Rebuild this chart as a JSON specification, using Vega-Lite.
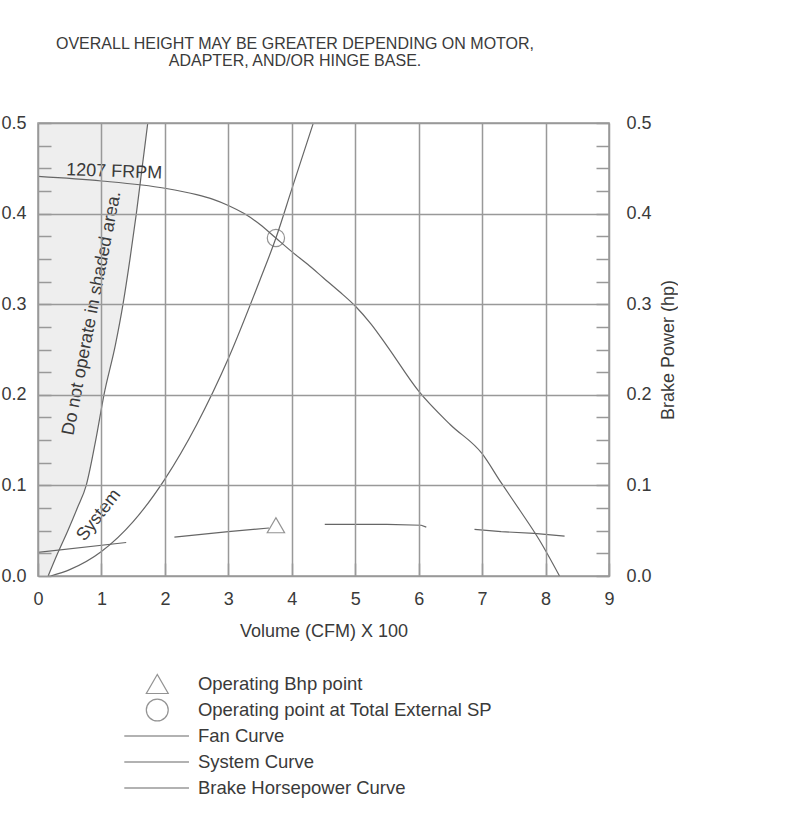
{
  "$schema": "https://vega.github.io/schema/vega-lite/v6.json",
  "padding": {"left": 0, "top": 36, "right": 0, "bottom": 0},
  "background": "white",
  "title": {
    "text": ["OVERALL HEIGHT MAY BE GREATER DEPENDING ON MOTOR,", "ADAPTER, AND/OR HINGE BASE."],
    "font": "Liberation Sans", "fontSize": 16, "fontWeight": "normal", "color": "#3a3a3a",
    "lineHeight": 17, "anchor": "middle", "offset": 44, "dx": -44
  },
  "config": {
    "view": {"stroke": "#999", "strokeWidth": 1.5},
    "font": "Liberation Sans",
    "axis": {
      "labelFont": "Liberation Sans", "titleFont": "Liberation Sans",
      "labelFontSize": 18, "titleFontSize": 18, "labelColor": "#3a3a3a", "titleColor": "#3a3a3a",
      "titleFontWeight": "normal", "labelFlush": false, "labelOverlap": false,
      "domain": false, "tickColor": "#999", "tickWidth": 1.5, "gridColor": "#999", "gridWidth": 1.5
    }
  },
  "spacing": 30,
  "vconcat": [
    {
      "width": 571,
      "height": 453,
      "resolve": {"axis": {"y": "independent"}},
      "layer": [
        {
          "data": {"values": [
            {"x": 0.16, "y": 0.0}, {"x": 0.31, "y": 0.025}, {"x": 0.47, "y": 0.05}, {"x": 0.62, "y": 0.075},
            {"x": 0.76, "y": 0.1}, {"x": 0.91, "y": 0.15}, {"x": 1.04, "y": 0.2}, {"x": 1.22, "y": 0.255},
            {"x": 1.34, "y": 0.3}, {"x": 1.45, "y": 0.35}, {"x": 1.55, "y": 0.4}, {"x": 1.64, "y": 0.45}, {"x": 1.73, "y": 0.5}
          ]},
          "mark": {"type": "area", "orient": "horizontal", "color": "#ececec", "opacity": 0.9, "interpolate": "monotone"},
          "encoding": {
            "y": {"field": "y", "type": "quantitative", "scale": {"domain": [0, 0.5]},
              "axis": {
                "orient": "left", "title": null,
                "values": [0, 0.025, 0.05, 0.075, 0.1, 0.125, 0.15, 0.175, 0.2, 0.225, 0.25, 0.275, 0.3, 0.325, 0.35, 0.375, 0.4, 0.425, 0.45, 0.475, 0.5],
                "labelExpr": "round(datum.value*1000) % 100 == 0 ? format(datum.value, '.1f') : ''",
                "grid": true,
                "gridOpacity": {"condition": {"test": "round(datum.value*1000) % 100 == 0", "value": 1}, "value": 0},
                "tickSize": -13, "labelPadding": 25, "zindex": 1
              }
            },
            "x": {"field": "x", "type": "quantitative", "stack": null, "scale": {"domain": [0, 9]},
              "axis": {
                "orient": "bottom", "title": "Volume (CFM) X 100",
                "values": [0, 0.25, 0.5, 0.75, 1, 1.25, 1.5, 1.75, 2, 2.25, 2.5, 2.75, 3, 3.25, 3.5, 3.75, 4, 4.25, 4.5, 4.75, 5, 5.25, 5.5, 5.75, 6, 6.25, 6.5, 6.75, 7, 7.25, 7.5, 7.75, 8, 8.25, 8.5, 8.75, 9],
                "labelExpr": "datum.value % 1 == 0 ? format(datum.value, 'd') : ''",
                "grid": true,
                "gridOpacity": {"condition": {"test": "datum.value % 1 == 0", "value": 1}, "value": 0},
                "tickSize": -13, "labelPadding": 27, "titlePadding": 14, "zindex": 1
              }
            }
          }
        },
        {
          "data": {"values": [
            {"x": 0.16, "y": 0.0}, {"x": 0.31, "y": 0.025}, {"x": 0.47, "y": 0.05}, {"x": 0.62, "y": 0.075},
            {"x": 0.76, "y": 0.1}, {"x": 0.91, "y": 0.15}, {"x": 1.04, "y": 0.2}, {"x": 1.22, "y": 0.255},
            {"x": 1.34, "y": 0.3}, {"x": 1.45, "y": 0.35}, {"x": 1.55, "y": 0.4}, {"x": 1.64, "y": 0.45}, {"x": 1.73, "y": 0.5}
          ]},
          "mark": {"type": "line", "color": "#666", "strokeWidth": 1.2, "interpolate": "monotone"},
          "encoding": {
            "x": {"field": "x", "type": "quantitative"},
            "y": {"field": "y", "type": "quantitative",
              "axis": {
                "orient": "right", "title": "Brake Power (hp)", "titleAngle": 270, "titleBaseline": "top",
                "values": [0, 0.025, 0.05, 0.075, 0.1, 0.125, 0.15, 0.175, 0.2, 0.225, 0.25, 0.275, 0.3, 0.325, 0.35, 0.375, 0.4, 0.425, 0.45, 0.475, 0.5],
                "labelExpr": "round(datum.value*1000) % 100 == 0 ? format(datum.value, '.1f') : ''",
                "grid": false, "tickSize": -13, "labelPadding": 30, "titlePadding": 8
              }
            }
          }
        },
        {
          "data": {"values": [
            {"x": 0.2, "y": 0.0}, {"x": 0.5, "y": 0.007}, {"x": 1.0, "y": 0.027}, {"x": 1.5, "y": 0.06},
            {"x": 2.0, "y": 0.107}, {"x": 2.5, "y": 0.167}, {"x": 3.0, "y": 0.24}, {"x": 3.5, "y": 0.327},
            {"x": 3.75, "y": 0.373}, {"x": 4.0, "y": 0.427}, {"x": 4.34, "y": 0.5}
          ]},
          "mark": {"type": "line", "color": "#666", "strokeWidth": 1.2, "interpolate": "monotone"},
          "encoding": {
            "x": {"field": "x", "type": "quantitative"},
            "y": {"field": "y", "type": "quantitative", "axis": null}
          }
        },
        {
          "data": {"values": [
            {"x": 0.0, "y": 0.441}, {"x": 1.0, "y": 0.436}, {"x": 2.0, "y": 0.428}, {"x": 2.5, "y": 0.421},
            {"x": 2.75, "y": 0.416}, {"x": 3.0, "y": 0.409}, {"x": 3.25, "y": 0.400}, {"x": 3.5, "y": 0.388},
            {"x": 3.75, "y": 0.373}, {"x": 4.0, "y": 0.358}, {"x": 4.25, "y": 0.344}, {"x": 4.5, "y": 0.329},
            {"x": 4.75, "y": 0.314}, {"x": 5.0, "y": 0.298}, {"x": 5.25, "y": 0.278}, {"x": 5.5, "y": 0.254},
            {"x": 6.0, "y": 0.204}, {"x": 6.5, "y": 0.167}, {"x": 7.0, "y": 0.135},
            {"x": 7.3, "y": 0.103}, {"x": 7.6, "y": 0.072}, {"x": 7.9, "y": 0.040}, {"x": 8.22, "y": 0.0}
          ]},
          "mark": {"type": "line", "color": "#666", "strokeWidth": 1.2, "interpolate": "monotone"},
          "encoding": {
            "x": {"field": "x", "type": "quantitative"},
            "y": {"field": "y", "type": "quantitative", "axis": null}
          }
        },
        {
          "data": {"values": [
            {"seg": "a", "x": 0.0, "y": 0.026}, {"seg": "a", "x": 1.39, "y": 0.037},
            {"seg": "b", "x": 2.15, "y": 0.043}, {"seg": "b", "x": 3.0, "y": 0.049}, {"seg": "b", "x": 3.64, "y": 0.053},
            {"seg": "c", "x": 4.52, "y": 0.057}, {"seg": "c", "x": 5.5, "y": 0.057}, {"seg": "c", "x": 6.04, "y": 0.056}, {"seg": "c", "x": 6.12, "y": 0.054},
            {"seg": "d", "x": 6.88, "y": 0.0515}, {"seg": "d", "x": 7.3, "y": 0.049}, {"seg": "d", "x": 7.82, "y": 0.047}, {"seg": "d", "x": 8.3, "y": 0.044}
          ]},
          "mark": {"type": "line", "color": "#666", "strokeWidth": 1.2},
          "encoding": {
            "x": {"field": "x", "type": "quantitative"},
            "y": {"field": "y", "type": "quantitative", "axis": null},
            "detail": {"field": "seg", "type": "nominal"}
          }
        },
        {
          "data": {"values": [
            {"label": "Operating Bhp point", "x": 3.75, "y": 0.056},
            {"label": "Operating point at Total External SP", "x": 3.75, "y": 0.373}
          ]},
          "mark": {"type": "point", "filled": false, "color": "#666", "strokeWidth": 1.2, "size": 300},
          "encoding": {
            "x": {"field": "x", "type": "quantitative"},
            "y": {"field": "y", "type": "quantitative", "axis": null},
            "shape": {"field": "label", "type": "nominal", "legend": null,
              "scale": {"domain": ["Operating Bhp point", "Operating point at Total External SP"], "range": ["triangle-up", "circle"]}}
          }
        },
        {
          "data": {"values": [{"text": "1207 FRPM", "x": 1.2, "y": 0.446}]},
          "mark": {"type": "text", "fontSize": 18, "color": "#3a3a3a", "angle": 2, "font": "Liberation Sans"},
          "encoding": {
            "x": {"field": "x", "type": "quantitative"},
            "y": {"field": "y", "type": "quantitative", "axis": null},
            "text": {"field": "text"}
          }
        },
        {
          "data": {"values": [{"text": "Do not operate in shaded area.", "x": 0.85, "y": 0.290}]},
          "mark": {"type": "text", "fontSize": 18, "color": "#3a3a3a", "angle": -79, "font": "Liberation Sans"},
          "encoding": {
            "x": {"field": "x", "type": "quantitative"},
            "y": {"field": "y", "type": "quantitative", "axis": null},
            "text": {"field": "text"}
          }
        },
        {
          "data": {"values": [{"text": "System", "x": 0.96, "y": 0.067}]},
          "mark": {"type": "text", "fontSize": 18, "color": "#3a3a3a", "angle": -52, "font": "Liberation Sans"},
          "encoding": {
            "x": {"field": "x", "type": "quantitative"},
            "y": {"field": "y", "type": "quantitative", "axis": null},
            "text": {"field": "text"}
          }
        }
      ]
    },
    {
      "width": 571,
      "height": 130,
      "view": {"stroke": null},
      "data": {"values": [
        {"label": "Operating Bhp point", "kind": "symbol"},
        {"label": "Operating point at Total External SP", "kind": "symbol"},
        {"label": "Fan Curve", "kind": "line"},
        {"label": "System Curve", "kind": "line"},
        {"label": "Brake Horsepower Curve", "kind": "line"}
      ]},
      "encoding": {
        "y": {"field": "label", "type": "nominal", "sort": null, "axis": null, "scale": {"type": "point", "padding": 0.5}}
      },
      "layer": [
        {
          "transform": [{"filter": "datum.kind === 'symbol'"}],
          "mark": {"type": "point", "filled": false, "color": "#666", "strokeWidth": 1.2, "size": 480},
          "encoding": {
            "x": {"datum": 1.88, "type": "quantitative", "scale": {"domain": [0, 9]}, "axis": null},
            "shape": {"field": "label", "type": "nominal", "legend": null}
          }
        },
        {
          "transform": [{"filter": "datum.kind === 'line'"}],
          "mark": {"type": "rule", "color": "#666", "strokeWidth": 1.2},
          "encoding": {
            "x": {"datum": 1.36, "type": "quantitative"},
            "x2": {"datum": 2.38}
          }
        },
        {
          "mark": {"type": "text", "align": "left", "baseline": "middle", "fontSize": 18.5, "color": "#3a3a3a", "font": "Liberation Sans"},
          "encoding": {
            "x": {"datum": 2.52, "type": "quantitative"},
            "text": {"field": "label"}
          }
        }
      ]
    }
  ]
}
